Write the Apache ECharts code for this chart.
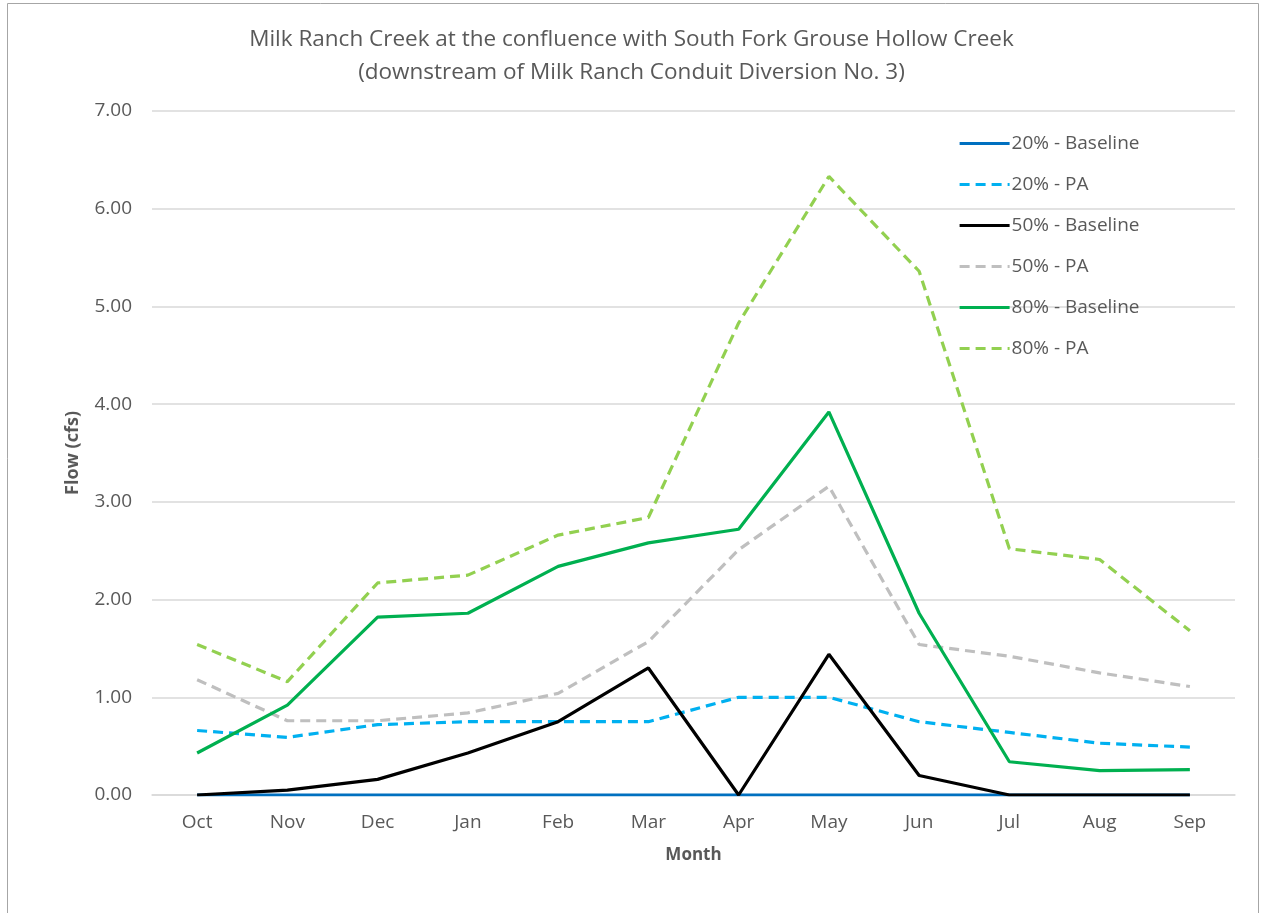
<!DOCTYPE html>
<html><head><meta charset="utf-8">
<script src="https://cdn.jsdelivr.net/npm/echarts@6/dist/echarts.min.js"></script>
<style>html,body{margin:0;padding:0;background:#fff}#c{width:1263px;height:913px}</style>
</head><body><div id="c"></div>
<script>
var months = ['Oct','Nov','Dec','Jan','Feb','Mar','Apr','May','Jun','Jul','Aug','Sep'];
var yTicks = ['0.00','1.00','2.00','3.00','4.00','5.00','6.00','7.00'];
var base20 = [0,0,0,0,0,0,0,0,0,0,0,0];
var pa20 = [0.66,0.59,0.72,0.75,0.75,0.75,1.00,1.00,0.75,0.64,0.53,0.49];
var base50 = [0,0.05,0.16,0.43,0.75,1.30,0,1.44,0.20,0,0,0];
var pa50 = [1.18,0.76,0.76,0.84,1.04,1.57,2.51,3.16,1.54,1.42,1.25,1.11];
var base80 = [0.43,0.92,1.82,1.86,2.34,2.58,2.72,3.92,1.86,0.34,0.25,0.26];
var pa80 = [1.54,1.16,2.17,2.25,2.66,2.84,4.83,6.33,5.36,2.52,2.41,1.68];

var names = ['20% - Baseline','20% - PA','50% - Baseline','50% - PA','80% - Baseline','80% - PA'];
var colors = ['#0070c0','#00b0f0','#000000','#bfbfbf','#00b050','#92d050'];
var dashed = [false,true,false,true,false,true];
var dataSets = [base20,pa20,base50,pa50,base80,pa80];

var font = '"Open Sans", "Liberation Sans", sans-serif';
var chart = echarts.init(document.getElementById('c'));
chart.setOption({
  animation:false,
  backgroundColor:'#fff',
  graphic:[{type:'rect',shape:{x:7.5,y:3.5,width:1251,height:930},style:{fill:'none',stroke:'#a6a6a6',lineWidth:1},silent:true}],
  title:{
    text:'Milk Ranch Creek at the confluence with South Fork Grouse Hollow Creek\n(downstream of Milk Ranch Conduit Diversion No. 3)',
    left:'center', top:18,
    textStyle:{fontFamily:font,fontSize:22.5,fontWeight:'normal',color:'#595959',lineHeight:33}
  },
  legend:{
    orient:'vertical', left:953, top:129,
    itemWidth:50, itemHeight:14, itemGap:22,
    data:names,
    itemStyle:{opacity:0},
    lineStyle:{width:3.2},
    textStyle:{fontFamily:font,fontSize:19,color:'#595959',padding:[0,0,0,-3]}
  },
  grid:{left:152,right:28,top:111,bottom:118,containLabel:false},
  xAxis:{
    type:'category', data:months, boundaryGap:true,
    name:'Month', nameLocation:'middle', nameGap:52,
    nameTextStyle:{fontFamily:font,fontSize:17,fontWeight:'bold',color:'#595959'},
    axisLine:{lineStyle:{color:'#d9d9d9',width:1.5}},
    axisTick:{show:false},
    axisLabel:{fontFamily:font,fontSize:19,color:'#595959',margin:18}
  },
  yAxis:{
    type:'value', min:0, max:7, interval:1,
    name:'Flow (cfs)', nameLocation:'middle', nameGap:70,
    nameTextStyle:{fontFamily:font,fontSize:18,fontWeight:'bold',color:'#595959'},
    axisLine:{show:false}, axisTick:{show:false},
    axisLabel:{fontFamily:font,fontSize:19,color:'#595959',margin:20,
      formatter:function(v){return yTicks[Math.round(v)];}},
    splitLine:{lineStyle:{color:'#d9d9d9',width:1.5}}
  },
  series:names.map(function(n,i){
    return {
      name:n, type:'line', data:dataSets[i], symbol:'none', smooth:false,
      lineStyle:{color:colors[i],width:3.2,type:dashed[i]?[10,6]:'solid'},
      itemStyle:{color:colors[i]}
    };
  })
});
</script></body></html>
